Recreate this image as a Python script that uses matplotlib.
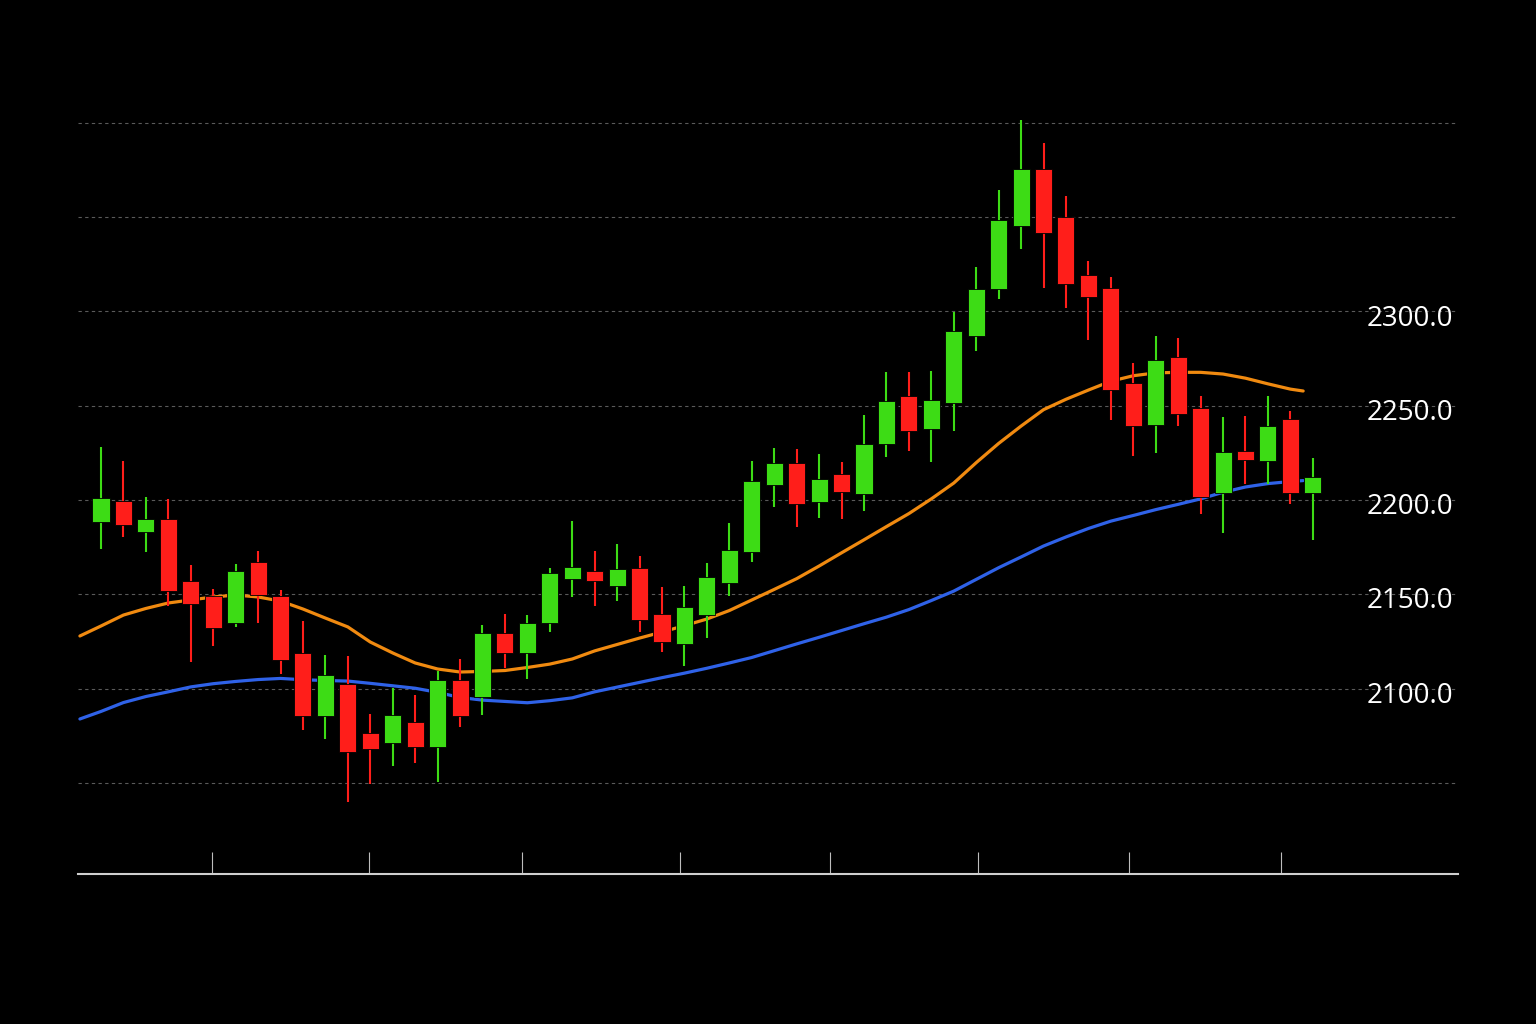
import numpy as np
import matplotlib.pyplot as plt
from matplotlib.transforms import blended_transform_factory

# OHLC values, one per candle
opens = [2188.3, 2199.5, 2183.0, 2189.9, 2157.1, 2149.1, 2134.8, 2167.1, 2149.1, 2118.9,
         2085.5, 2102.4, 2076.5, 2071.2, 2082.3, 2069.0, 2104.6, 2095.6, 2129.5, 2118.9,
         2134.8, 2158.1, 2162.4, 2154.4, 2163.9, 2139.6, 2123.6, 2139.0, 2156.0, 2172.4,
         2208.0, 2219.6, 2198.9, 2213.8, 2203.2, 2229.7, 2255.1, 2237.6, 2251.4, 2287.0,
         2311.9, 2345.3, 2375.5, 2350.0, 2319.3, 2312.4, 2262.0, 2239.8, 2275.8, 2248.8,
         2203.7, 2226.0, 2220.7, 2242.9, 2203.7]
highs = [2228.1, 2220.7, 2201.6, 2200.5, 2165.5, 2152.8, 2166.1, 2173.0, 2152.3, 2135.8,
         2117.8, 2117.3, 2086.5, 2100.3, 2096.6, 2109.3, 2115.7, 2133.7, 2139.6, 2139.0,
         2163.9, 2188.9, 2173.0, 2176.7, 2170.3, 2153.9, 2154.4, 2166.6, 2187.8, 2220.7,
         2227.6, 2227.0, 2224.4, 2220.1, 2245.1, 2267.9, 2267.9, 2268.4, 2299.7, 2323.5,
         2364.4, 2401.5, 2389.3, 2361.2, 2326.7, 2318.2, 2272.6, 2287.0, 2285.9, 2255.1,
         2244.0, 2244.5, 2255.1, 2247.2, 2222.3]
lows = [2174.0, 2180.4, 2172.4, 2143.8, 2114.1, 2122.6, 2132.7, 2134.8, 2107.7, 2078.1,
        2073.3, 2039.9, 2049.4, 2059.0, 2060.6, 2050.5, 2079.6, 2086.0, 2110.9, 2105.1,
        2130.0, 2148.6, 2143.8, 2146.5, 2130.0, 2119.4, 2112.0, 2126.8, 2149.1, 2167.1,
        2196.3, 2185.7, 2190.5, 2189.9, 2194.2, 2222.8, 2226.0, 2220.1, 2236.6, 2279.0,
        2306.6, 2333.1, 2312.4, 2301.8, 2284.8, 2242.4, 2223.3, 2224.9, 2239.2, 2192.6,
        2182.5, 2208.5, 2208.5, 2197.9, 2178.8]
closes = [2201.1, 2186.7, 2189.9, 2151.8, 2144.9, 2132.1, 2162.4, 2149.6, 2115.4, 2085.5,
          2107.2, 2066.4, 2068.0, 2086.0, 2069.0, 2104.6, 2085.5, 2129.5, 2118.9, 2134.8,
          2161.3, 2164.5, 2157.1, 2163.4, 2136.4, 2124.7, 2143.3, 2159.2, 2173.5, 2210.1,
          2219.6, 2197.9, 2211.1, 2204.2, 2229.7, 2252.5, 2236.6, 2253.0, 2289.6, 2311.9,
          2348.5, 2375.5, 2341.6, 2314.5, 2307.6, 2258.3, 2239.2, 2274.2, 2245.6, 2201.6,
          2225.4, 2221.2, 2239.2, 2203.7, 2212.2]

# moving averages, sampled at candle positions (plus start / end of the line)
ma_pos = [-0.94] + list(range(54)) + [53.57]
ma_fast = [2127.9, 2133.2, 2139.0, 2142.5, 2145.4, 2147.0, 2148.6, 2149.6, 2148.6, 2146.4,
           2142.2, 2137.4, 2132.7, 2124.7, 2118.9, 2113.6, 2110.4, 2108.8, 2109.1, 2109.6,
           2111.2, 2113.0, 2115.7, 2120.0, 2123.4, 2126.8, 2130.0, 2133.4, 2136.9, 2141.4,
           2147.0, 2152.6, 2158.3, 2165.0, 2172.0, 2178.9, 2185.9, 2192.8, 2200.6, 2209.0,
           2219.8, 2230.0, 2239.2, 2247.9, 2253.4, 2258.3, 2263.0, 2265.9, 2267.4, 2267.7,
           2267.7, 2266.8, 2264.6, 2261.6, 2258.8, 2257.8]
ma_slow = [2083.9, 2087.9, 2092.6, 2095.8, 2098.3, 2100.9, 2102.6, 2103.8, 2104.8, 2105.4,
           2104.7, 2104.3, 2104.0, 2102.8, 2101.5, 2100.2, 2098.0, 2095.3, 2093.9, 2093.2,
           2092.5, 2093.6, 2095.1, 2098.3, 2100.8, 2103.3, 2105.8, 2108.2, 2110.8, 2113.6,
           2116.5, 2120.1, 2123.7, 2127.2, 2130.8, 2134.4, 2137.9, 2141.9, 2146.7, 2151.7,
           2157.9, 2164.1, 2169.8, 2175.6, 2180.4, 2184.9, 2188.8, 2191.8, 2194.9, 2197.7,
           2200.6, 2204.1, 2206.9, 2208.7, 2209.8, 2210.3]

grid_levels = [2050, 2100, 2150, 2200, 2250, 2300, 2350, 2400]
label_levels = [2100, 2150, 2200, 2250, 2300]
tick_pos = [4.95, 11.94, 18.76, 25.80, 32.48, 39.08, 45.80, 52.58]

GREEN = '#3ddc15'
RED = '#ff1e1a'

fig = plt.figure(figsize=(15.36, 10.24), dpi=100, facecolor='black')
ax = fig.add_axes([78 / 1536, 1 - 874 / 1024, 1380 / 1536, 774 / 1024])
ax.set_facecolor('black')

# gridlines
for lv in grid_levels:
    ax.axhline(lv, color='#5a5a5a', lw=0.8, ls=(0, (3, 3)), zorder=0)

# moving averages (behind candles)
ax.plot(ma_pos, ma_fast, color='#f08a10', lw=2.3, zorder=1, solid_capstyle='round')
ax.plot(ma_pos, ma_slow, color='#2f62e8', lw=2.3, zorder=1, solid_capstyle='round')

# candles
x = np.arange(len(opens))
o = np.array(opens)
c = np.array(closes)
cols = [GREEN if cc >= oo else RED for oo, cc in zip(o, c)]
ax.vlines(x, lows, highs, colors=cols, lw=1.5, zorder=2)
ax.bar(x, np.abs(c - o), bottom=np.minimum(o, c), width=0.76, color=cols,
       edgecolor='black', linewidth=0.6, zorder=3)

# price labels on the right, inside the plot
tr = blended_transform_factory(ax.transAxes, ax.transData)
for lv in label_levels:
    ax.text(0.9964, lv - 3.8, f'{lv:.1f}', transform=tr, ha='right', va='center',
            color='white', fontsize=20, family='Open Sans', zorder=4)

ax.set_xlim(-1.025, 60.47)
ax.set_ylim(2001.7, 2412.1)

for s in ['top', 'right', 'left']:
    ax.spines[s].set_visible(False)
ax.spines['bottom'].set_color('#cfcfcf')
ax.spines['bottom'].set_linewidth(1.5)

ax.set_yticks([])
ax.set_xticks(tick_pos)
ax.set_xticklabels([])
ax.tick_params(axis='x', direction='in', length=16, width=0.8, color='#bdbdbd')

fig.savefig('out.png', dpi=100, facecolor='black')
